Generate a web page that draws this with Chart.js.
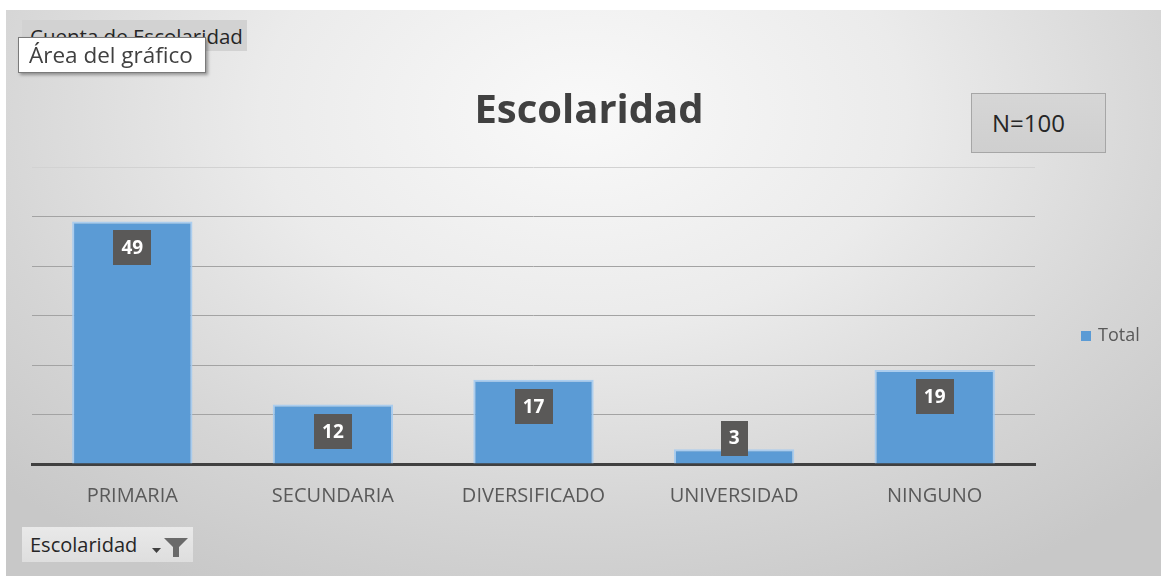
<!DOCTYPE html>
<html>
<head>
<meta charset="utf-8">
<script src="https://cdn.jsdelivr.net/npm/chart.js@4/dist/chart.umd.min.js"></script>
<style>
  html, body { margin:0; padding:0; background:#ffffff; width:1161px; height:576px; overflow:hidden; font-family:"Open Sans", sans-serif; }
  #frame { position:absolute; left:6px; top:10px; width:1155px; height:566px;
    background: radial-gradient(ellipse 70% 95% at 50% 18%, #f9f9f9 0%, #ebebeb 40%, #d5d5d5 75%, #c8c8c8 100%); }
  #chart { position:absolute; left:0; top:0; }
  .ov { position:absolute; white-space:nowrap; }
  #title { left:389px; width:400px; top:82px; text-align:center; font-size:40px; font-weight:bold; color:#404040; line-height:52px; }
  #nbox { left:971px; top:93px; height:58px; border:1px solid #a6a6a6;
    background:linear-gradient(#d6d6d6,#cfcfcf); font-size:24px; color:#262626; line-height:58px; padding-left:20px; box-sizing:content-box; width:113px; }
  #legend { left:1081px; top:321px; font-size:18px; color:#595959; line-height:26px; }
  #legend span.sw { display:inline-block; width:10px; height:10px; background:#5b9bd5; margin-right:7px; vertical-align:0px; }
  #field1 { left:22px; top:20px; width:225px; height:31px; background:#d2d2d2; font-size:20.5px; color:#262626; line-height:33px; padding-left:8px; box-sizing:border-box; }
  #tip { left:18px; top:37px; width:188px; height:36px; background:#ffffff; border:1px solid #7a7a7a; box-shadow:2px 2px 3px rgba(0,0,0,0.35);
    font-size:22.5px; color:#404040; line-height:34px; padding-left:10px; box-sizing:border-box; }
  #field2 { left:22px; top:527px; width:171px; height:35px; background:linear-gradient(#e9e9e9,#dedede); font-size:20px; color:#262626; line-height:35px; padding-left:8px; box-sizing:border-box; }
  #field2 svg { position:absolute; left:128px; top:7px; }
</style>
</head>
<body>
<div id="frame">
  <canvas id="chart" width="1155" height="566"></canvas>
</div>
<div class="ov" id="title">Escolaridad</div>
<div class="ov" id="nbox">N=100</div>
<div class="ov" id="legend"><span class="sw"></span>Total</div>
<div class="ov" id="field1">Cuenta de Escolaridad</div>
<div class="ov" id="tip">Área del gráfico</div>
<div class="ov" id="field2">Escolaridad
  <svg width="44" height="24" viewBox="0 0 44 24">
    <polygon points="2,14 11,14 6.5,19" fill="#404040"/>
    <polygon points="14,4 38,4 29,13 29,23 23,23 23,13" fill="#6a6a6a"/>
  </svg>
</div>
<script>
const categories = ['PRIMARIA', 'SECUNDARIA', 'DIVERSIFICADO', 'UNIVERSIDAD', 'NINGUNO'];
const totals = [49, 12, 17, 3, 19];
const seriesName = 'Total';
const yMin = 0;
const yMax = 60;
const yStep = 10;

const labelPlugin = {
  id: 'boxLabels',
  afterDatasetsDraw(chart) {
    const ctx = chart.ctx;
    const meta = chart.getDatasetMeta(0);
    const data = chart.data.datasets[0].data;
    ctx.save();
    ctx.font = 'bold 19px "Open Sans"';
    ctx.textAlign = 'center';
    ctx.textBaseline = 'middle';
    meta.data.forEach((bar, i) => {
      const txt = String(data[i]);
      const w = ctx.measureText(txt).width + 16;
      const h = 35;
      let top = bar.y + 9;
      if (top + h > bar.base - 8) top = bar.base - 8 - h;
      ctx.fillStyle = '#5a5958';
      ctx.fillRect(Math.round(bar.x - w / 2), Math.round(top), Math.round(w), h);
      ctx.fillStyle = '#ffffff';
      ctx.fillText(txt, bar.x, top + h / 2 + 1);
    });
    ctx.restore();
  }
};

new Chart(document.getElementById('chart'), {
  type: 'bar',
  data: {
    labels: categories,
    datasets: [{
      label: seriesName,
      data: totals,
      backgroundColor: '#5b9bd5',
      borderColor: 'rgba(165,203,240,0.9)',
      borderWidth: { top: 2, left: 2, right: 2, bottom: 0 },
      borderSkipped: 'bottom',
      barPercentage: 0.6,
      categoryPercentage: 1.0
    }]
  },
  options: {
    responsive: false,
    animation: false,
    devicePixelRatio: 1,
    layout: { padding: { left: 26, right: 126, top: 157, bottom: 52 } },
    plugins: {
      legend: { display: false },
      title: { display: false },
      tooltip: { enabled: false }
    },
    scales: {
      x: {
        grid: { display: false, drawTicks: false },
        border: { display: true, color: '#404040', width: 3 },
        ticks: { color: '#595959', font: { family: 'Open Sans', size: 20 }, padding: 20, maxRotation: 0 },
        afterFit: (s) => { s.height = 60; }
      },
      y: {
        min: yMin,
        max: yMax,
        ticks: { display: false, stepSize: yStep },
        grid: {
          drawTicks: false,
          color: (c) => c.tick && c.tick.value === yMax ? '#d2d2d2' : (c.tick && c.tick.value === yMin ? 'rgba(0,0,0,0)' : '#a3a3a3'),
          lineWidth: 1
        },
        border: { display: false },
        afterFit: (s) => { s.width = 0; }
      }
    }
  },
  plugins: [labelPlugin]
});
</script>
</body>
</html>
